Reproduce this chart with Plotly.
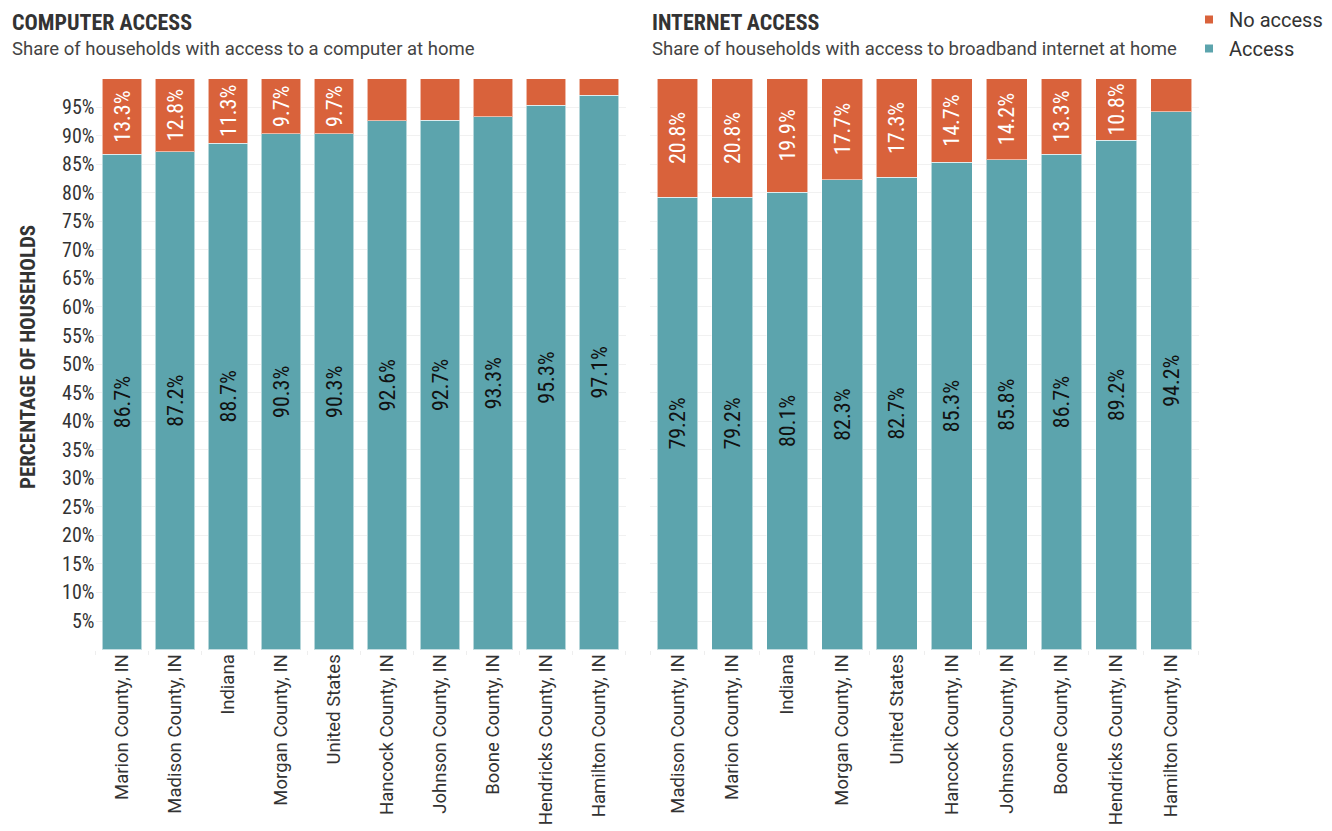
import plotly.graph_objects as go

# ---------------- data ----------------
computer_categories = ["Marion County, IN", "Madison County, IN", "Indiana", "Morgan County, IN",
                       "United States", "Hancock County, IN", "Johnson County, IN", "Boone County, IN",
                       "Hendricks County, IN", "Hamilton County, IN"]
computer_access = [86.7, 87.2, 88.7, 90.3, 90.3, 92.6, 92.7, 93.3, 95.3, 97.1]
computer_no_access = [13.3, 12.8, 11.3, 9.7, 9.7, 7.4, 7.3, 6.7, 4.7, 2.9]

internet_categories = ["Madison County, IN", "Marion County, IN", "Indiana", "Morgan County, IN",
                       "United States", "Hancock County, IN", "Johnson County, IN", "Boone County, IN",
                       "Hendricks County, IN", "Hamilton County, IN"]
internet_access = [79.2, 79.2, 80.1, 82.3, 82.7, 85.3, 85.8, 86.7, 89.2, 94.2]
internet_no_access = [20.8, 20.8, 19.9, 17.7, 17.3, 14.7, 14.2, 13.3, 10.8, 5.8]

y_tick_values = [5, 10, 15, 20, 25, 30, 35, 40, 45, 50, 55, 60, 65, 70, 75, 80, 85, 90, 95]
y_tick_labels = [f"{v}%" for v in y_tick_values]

# ---------------- style ----------------
TEAL = "#5CA4AD"
ORANGE = "#D9623B"
COND = "Roboto Condensed, Liberation Sans Narrow, Arial Narrow, DejaVu Sans Condensed, sans-serif"
REG = "Roboto, Noto Sans, sans-serif"
LABEL_MIN = 9.0

W, H = 1332, 831


def px_x(x):
    return x / W


def px_y(y):
    return 1 - y / H


fig = go.Figure()

panels = [
    ("x", "y", computer_categories, computer_access, computer_no_access),
    ("x2", "y2", internet_categories, internet_access, internet_no_access),
]

for xa, ya, cats, acc, noacc in panels:
    fig.add_trace(go.Bar(
        x=cats, y=acc, name="Access", xaxis=xa, yaxis=ya,
        marker=dict(color=TEAL, line=dict(color="rgba(255,255,255,0.55)", width=1)),
        text=[f"{v:.1f}%" for v in acc], textposition="inside", insidetextanchor="middle",
        textangle=-90, textfont=dict(family=COND, size=22, color="#111111"),
        showlegend=False, width=0.745, hoverinfo="x+y",
    ))
    fig.add_trace(go.Bar(
        x=cats, y=noacc, name="No access", xaxis=xa, yaxis=ya,
        marker=dict(color=ORANGE, line=dict(color="rgba(255,255,255,0.55)", width=1)),
        text=[f"{v:.1f}%" if v >= LABEL_MIN else "" for v in noacc], textposition="inside",
        insidetextanchor="middle",
        textangle=-90, textfont=dict(family=COND, size=22, color="#ffffff"),
        showlegend=False, width=0.745, hoverinfo="x+y",
    ))

# legend entries (small square markers like the reference)
for name, color in [("No access", ORANGE), ("Access", TEAL)]:
    fig.add_trace(go.Scatter(
        x=[None], y=[None], mode="markers", name=name, xaxis="x2", yaxis="y2",
        marker=dict(symbol="square", size=8, color=color), showlegend=True, hoverinfo="skip",
    ))

y_bottom = px_y(649.6)
y_top = px_y(67.1)

common_x = dict(
    type="category", tickangle=-90, showgrid=False, zeroline=False,
    tickfont=dict(family=REG, size=18.5, color="#333333"),
    ticks="outside", ticklen=4, tickcolor="#eeeeee", tickson="boundaries",
    showline=False, fixedrange=True, automargin=False,
)
common_y = dict(
    range=[0, 102], tickvals=y_tick_values, showgrid=True, gridcolor="#f1f1f1", gridwidth=1,
    zeroline=False, showline=False, fixedrange=True, automargin=False,
)

fig.update_layout(
    barmode="stack",
    width=W, height=H,
    margin=dict(l=0, r=0, t=0, b=0),
    paper_bgcolor="white", plot_bgcolor="white",
    xaxis=dict(domain=[px_x(95.5), px_x(625.7)], anchor="y", **common_x),
    xaxis2=dict(domain=[px_x(650.1), px_x(1198.6)], anchor="y2", **common_x),
    yaxis=dict(domain=[y_bottom, y_top], anchor="x", ticktext=y_tick_labels,
               tickfont=dict(family=COND, size=20, color="#333333"), showticklabels=True,
               ticks="", **common_y),
    yaxis2=dict(domain=[y_bottom, y_top], anchor="x2", showticklabels=False, ticks="", **common_y),
    legend=dict(
        x=px_x(1328), y=1.0, xanchor="right", yanchor="top", traceorder="normal",
        font=dict(family=REG, size=20, color="#333333"),
        itemwidth=30, tracegroupgap=0, bgcolor="rgba(0,0,0,0)",
    ),
    uniformtext=dict(minsize=8, mode="show"),
    annotations=[
        dict(text="<b>COMPUTER ACCESS</b>", x=px_x(10), y=px_y(22), xref="paper", yref="paper",
             xanchor="left", yanchor="middle", showarrow=False,
             font=dict(family=COND, size=22, color="#333333")),
        dict(text="Share of households with access to a computer at home", x=px_x(10), y=px_y(49),
             xref="paper", yref="paper", xanchor="left", yanchor="middle", showarrow=False,
             font=dict(family=REG, size=18.5, color="#444444")),
        dict(text="<b>INTERNET ACCESS</b>", x=px_x(650), y=px_y(22), xref="paper", yref="paper",
             xanchor="left", yanchor="middle", showarrow=False,
             font=dict(family=COND, size=22, color="#333333")),
        dict(text="Share of households with access to broadband internet at home", x=px_x(650),
             y=px_y(49), xref="paper", yref="paper", xanchor="left", yanchor="middle",
             showarrow=False, font=dict(family=REG, size=18.5, color="#444444")),
        dict(text="<b>PERCENTAGE OF HOUSEHOLDS</b>", x=px_x(28), y=px_y(357), xref="paper",
             yref="paper", xanchor="center", yanchor="middle", textangle=-90, showarrow=False,
             font=dict(family=COND, size=21, color="#333333")),
    ],
)

fig.write_html("out.html", config={"displayModeBar": False},
               post_script="document.body.style.margin='0';document.body.style.overflow='hidden';")
